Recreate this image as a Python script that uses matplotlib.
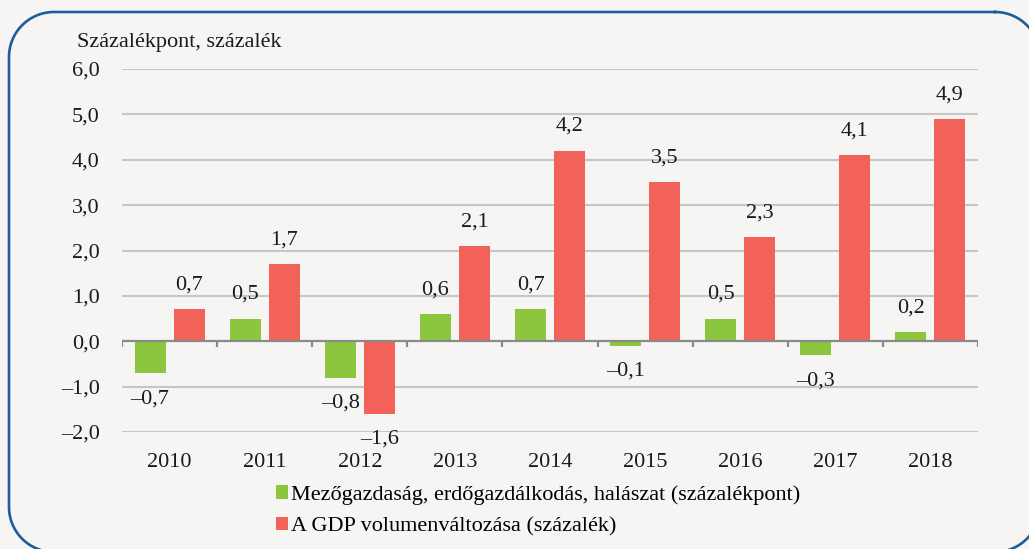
import numpy as np
import matplotlib.pyplot as plt
from matplotlib.lines import Line2D
from matplotlib.transforms import Affine2D

years = ['2010', '2011', '2012', '2013', '2014', '2015', '2016', '2017', '2018']
agri = [-0.7, 0.5, -0.8, 0.6, 0.7, -0.1, 0.5, -0.3, 0.2]
gdp = [0.7, 1.7, -1.6, 2.1, 4.2, 3.5, 2.3, 4.1, 4.9]
yticks = [-2, -1, 0, 1, 2, 3, 4, 5, 6]

agri_label = 'Mezőgazdaság, erdőgazdálkodás, halászat (százalékpont)'
gdp_label = 'A GDP volumenváltozása (százalék)'

green = '#8cc63e'
red = '#f26259'
bg = '#f6f5f3'

plt.rcParams['font.family'] = ['Liberation Serif', 'DejaVu Serif']
plt.rcParams['font.size'] = 16


def fmt(v):
    return f'{v:.1f}'.replace('.', ',').replace('-', '\u2013')


W, H = 1029, 549
fig = plt.figure(figsize=(W / 100, H / 100), dpi=100, facecolor=bg)
ax = fig.add_axes([122 / W, 1 - 432 / H, (978 - 122) / W, (432 - 69) / H])
ax.set_facecolor(bg)

x = np.arange(len(years))
bw = 0.325
off = 0.205
b1 = ax.bar(x - off, agri, bw, color=green, label=agri_label, zorder=3)
b2 = ax.bar(x + off, gdp, bw, color=red, label=gdp_label, zorder=3)

for bars, vals in ((b1, agri), (b2, gdp)):
    for b, v in zip(bars, vals):
        dy = 17.5 if v >= 0 else -18.5
        ax.annotate(fmt(v), (b.get_x() + b.get_width() / 2, v),
                    xytext=(0, dy), textcoords='offset points',
                    ha='center', va='center', color='#1a1a1a', zorder=4)

ax.set_xlim(-0.5, len(years) - 0.5)
ax.set_ylim(yticks[0], yticks[-1])
ax.set_yticks(yticks)
ax.set_yticklabels([fmt(v) for v in yticks])
ax.set_xticks(x)
ax.set_xticklabels(years)
ax.tick_params(axis='both', length=0, colors='#1a1a1a')
ax.tick_params(axis='y', pad=16)
ax.tick_params(axis='x', pad=15)
for s in ax.spines.values():
    s.set_visible(False)

for t in yticks:
    if t != 0:
        ax.axhline(t, color='#c6c6c6', lw=1.5, zorder=1)
ax.axhline(0, color='#8a8a8a', lw=1.6, zorder=5)
ax.vlines(np.arange(len(years) + 1) - 0.5, -0.13, 0, color='#8a8a8a', lw=1.6, zorder=5)

fig.text(77 / W, 1 - 43 / H, 'Százalékpont, százalék', ha='left', va='center', color='#1a1a1a')

fig.legend(loc='upper left', bbox_to_anchor=(276 / W, 1 - 485 / H), frameon=False,
           handlelength=0.55, handleheight=0.55, handletextpad=0.12, labelspacing=0.55,
           borderaxespad=0, borderpad=0)

# rounded frame in pixel coordinates (y measured from top)
x0, x1, y0, y1, r = 9, 1040, 12, 552, 45
pts = []
for cx, cy, a0 in ((x1 - r, y0 + r, -90), (x1 - r, y1 - r, 0), (x0 + r, y1 - r, 90), (x0 + r, y0 + r, 180)):
    a = np.radians(np.linspace(a0, a0 + 90, 30))
    pts.append(np.column_stack([cx + r * np.cos(a), cy + r * np.sin(a)]))
pts = np.vstack(pts + [pts[0][:1]])
pix = Affine2D().scale(1 / W, -1 / H).translate(0, 1) + fig.transFigure
fig.add_artist(Line2D(pts[:, 0], pts[:, 1], color='#1c5d9c', lw=1.9, transform=pix, clip_on=False))

fig.savefig('out.png', dpi=100, facecolor=bg)
